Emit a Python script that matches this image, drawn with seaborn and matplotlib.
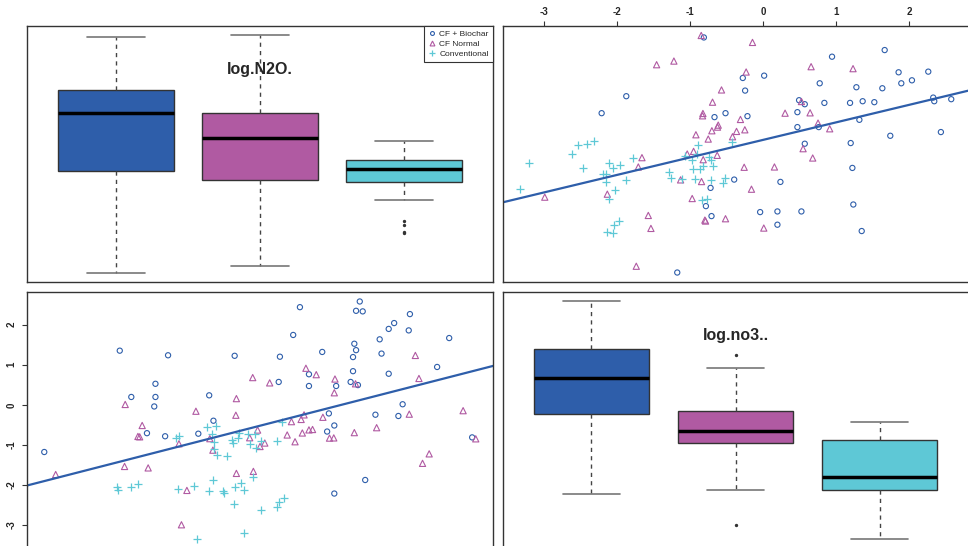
import matplotlib
matplotlib.use('Agg')
import matplotlib.pyplot as plt
from matplotlib.lines import Line2D
import numpy as np
import pandas as pd
import seaborn as sns

sns.set_style('white')
plt.rcParams['font.family'] = ['Liberation Sans', 'DejaVu Sans']
plt.rcParams['axes.unicode_minus'] = False

groups = ['CF + Biochar', 'CF Normal', 'Conventional']
colors = ['#2E5EAA', '#B05AA2', '#5EC8D6']
markers = ['o', '^', '+']

# log(no3) and log(N2O) per treatment
biochar_no3 = [-0.813, 1.667, 0.945, 0.014, -0.279, 1.858, 2.265, 0.776, -0.247, 1.279,
               1.895, 2.041, 1.635, -1.877, 0.493, 0.571, 0.840, 1.192, 1.365, 1.525,
               2.333, 2.347, 2.580, -2.215, -0.667, -0.516, -0.215, 0.470, 1.320, 0.470,
               0.763, 1.744, 2.438, 0.571, 1.201, 1.224, -0.397, 0.237, -0.721, -0.785,
               -0.041, 0.196, 0.525, 1.237, -0.708, 0.196, 1.352, -1.178]
biochar_n2o = [2.389, 2.178, 2.067, 1.750, 1.711, 1.806, 1.817, 1.622, 1.500, 1.556,
               1.622, 1.672, 1.539, 1.406, 1.339, 1.272, 1.294, 1.294, 1.322, 1.306,
               1.383, 1.322, 1.356, 1.122, 1.056, 1.122, 1.072, 1.139, 1.011, 0.889,
               0.889, 0.744, 0.806, 0.611, 0.622, 0.206, 0.011, -0.028, -0.128, -0.433,
               -0.533, -0.522, -0.522, -0.406, -0.600, -0.744, -0.850, -1.544]

normal_no3 = [-0.849, -0.146, -1.461, -1.224, 0.658, 1.233, -0.233, -0.571, -0.694, -0.826,
              -0.831, 0.301, 0.644, -0.311, 0.753, -0.616, -0.626, -0.703, -0.365, -0.251,
              0.913, -0.922, -0.753, -0.420, 0.548, -1.041, -0.954, -0.630, -1.662, -0.822,
              0.680, -1.712, -0.260, 0.155, -1.132, -0.845, -0.160, -2.137, -2.995, -0.973,
              -1.575, -0.799, -0.790, -0.516, -1.539, 0.009, -1.740, 0.525]
normal_n2o = [2.422, 2.306, 1.933, 1.994, 1.900, 1.867, 1.811, 1.511, 1.306, 1.117,
              1.078, 1.122, 1.128, 1.017, 0.956, 0.922, 0.889, 0.828, 0.817, 0.844,
              0.861, 0.761, 0.689, 0.728, 0.528, 0.439, 0.483, 0.417, 0.378, 0.344,
              0.372, 0.222, 0.217, 0.222, 0.006, -0.022, -0.150, -0.233, -0.283, -0.306,
              -0.589, -0.667, -0.683, -0.644, -0.806, -0.800, -1.439, 1.317]

conv_no3 = [-3.205, -3.338, -2.543, -2.420, -2.320, -2.616, -2.475, -2.119, -2.055, -1.959,
            -2.201, -2.151, -2.160, -2.032, -1.881, -1.790, -2.110, -1.982, -2.046, -2.137,
            -2.064, -0.900, -0.429, -1.073, -0.913, -0.982, -0.740, -0.717, -0.694, -0.822,
            -0.868, -0.959, -1.288, -1.265, -1.110, -0.936, -0.717, -0.521, -0.548, -0.840,
            -0.776]
conv_n2o = [0.294, -0.144, 0.594, 0.611, 0.656, 0.444, 0.200, 0.294, 0.211, 0.261,
            0.111, 0.100, -0.028, -0.167, 0.011, 0.378, -0.317, -0.683, -0.750, -0.867,
            -0.878, 0.594, 0.644, 0.406, 0.444, 0.344, 0.389, 0.333, 0.244, 0.233,
            0.183, 0.194, 0.139, 0.044, 0.017, 0.017, 0.000, 0.033, -0.044, -0.333,
            -0.306]

no3_ticks = [-3, -2, -1, 0, 1, 2]

df = pd.concat([
    pd.DataFrame({'no3': biochar_no3, 'n2o': biochar_n2o, 'group': groups[0]}),
    pd.DataFrame({'no3': normal_no3, 'n2o': normal_n2o, 'group': groups[1]}),
    pd.DataFrame({'no3': conv_no3, 'n2o': conv_n2o, 'group': groups[2]}),
], ignore_index=True)


def padded(v):
    lo, hi = np.min(v), np.max(v)
    r = hi - lo
    return lo - 0.04 * r, hi + 0.04 * r


no3_lim = padded(df['no3'])
n2o_lim = padded(df['n2o'])

W, H = 968, 546
fig = plt.figure(figsize=(W / 100, H / 100), dpi=100)


def panel(x0, y0, w=466, h=256):
    ax = fig.add_axes([x0 / W, 1 - (y0 + h) / H, w / W, h / H])
    for s in ax.spines.values():
        s.set_visible(True)
        s.set_color('#333333')
        s.set_linewidth(1)
    return ax


ax_tl = panel(27, 26)
ax_tr = panel(502.5, 26)
ax_bl = panel(27, 292)
ax_br = panel(502.5, 292)

box_kws = dict(x='group', hue='group', order=groups, hue_order=groups,
               palette=colors, saturation=1, width=0.8, linecolor='#333333',
               linewidth=1, legend=False,
               whiskerprops=dict(linestyle=(0, (3, 3)), color='#444444'),
               medianprops=dict(color='black', linewidth=2.5),
               capprops=dict(color='#777777', linewidth=1.2),
               flierprops=dict(marker='o', markersize=1.4, markerfacecolor='#333333',
                               markeredgecolor='#333333'))


def diag(ax, col, lim, label):
    sns.boxplot(data=df, y=col, ax=ax, **box_kws)
    ax.set_xlim(-0.617, 2.617)
    ax.set_ylim(lim)
    ax.set_xticks([])
    ax.set_yticks([])
    ax.set_xlabel('')
    ax.set_ylabel('')
    ax.text(0.5, 0.832, label, transform=ax.transAxes, ha='center', va='center',
            fontsize=11.5, fontweight='bold')


diag(ax_tl, 'n2o', n2o_lim, 'log.N2O.')
diag(ax_br, 'no3', no3_lim, 'log.no3..')

sizes = [14, 20, 30]


def scatter(ax, x, y, xlim, ylim):
    for g, c, m, s in zip(groups, colors, markers, sizes):
        sub = df[df['group'] == g]
        if m == '+':
            sns.scatterplot(x=sub[x], y=sub[y], ax=ax, marker=m, s=s, color=c,
                            linewidth=0.9)
        else:
            sns.scatterplot(x=sub[x], y=sub[y], ax=ax, marker=m, s=s,
                            facecolor='none', edgecolor=c, linewidth=0.8)
    ax.set_xlim(xlim)
    ax.set_ylim(ylim)
    sns.regplot(data=df, x=x, y=y, scatter=False, ci=None, truncate=False,
                color=colors[0], line_kws=dict(linewidth=1.6), ax=ax)
    ax.set_xlim(xlim)
    ax.set_ylim(ylim)
    ax.set_xlabel('')
    ax.set_ylabel('')


scatter(ax_tr, 'no3', 'n2o', no3_lim, n2o_lim)
scatter(ax_bl, 'n2o', 'no3', n2o_lim, no3_lim)

ax_tr.set_yticks([])
ax_tr.xaxis.tick_top()
ax_tr.set_xticks(no3_ticks)
ax_tr.set_xticklabels([str(t) for t in no3_ticks], fontweight='bold')
ax_tr.tick_params(axis='x', top=True, bottom=False, length=3.5, width=0.8,
                  labelsize=7, pad=3, color='#333333')

ax_bl.set_xticks([])
ax_bl.set_yticks(no3_ticks)
ax_bl.set_yticklabels([str(t) for t in no3_ticks], fontweight='bold',
                      rotation=90, va='center')
ax_bl.tick_params(axis='y', left=True, length=3.5, width=0.8, labelsize=7,
                  pad=4, color='#333333')

handles = [
    Line2D([], [], ls='none', marker='o', ms=2.8, mfc='none', mec=colors[0], mew=0.8),
    Line2D([], [], ls='none', marker='^', ms=3.5, mfc='none', mec=colors[1], mew=0.8),
    Line2D([], [], ls='none', marker='+', ms=4.5, color=colors[2], mew=0.9),
]
leg = ax_tl.legend(handles, groups, loc='upper right', fontsize=6, frameon=True,
                   fancybox=False, edgecolor='#333333', framealpha=1,
                   borderaxespad=0, handlelength=0.8, handletextpad=0.5,
                   labelspacing=0.25, borderpad=0.5)
leg.get_frame().set_linewidth(0.8)

fig.savefig('out.png', dpi=100)
